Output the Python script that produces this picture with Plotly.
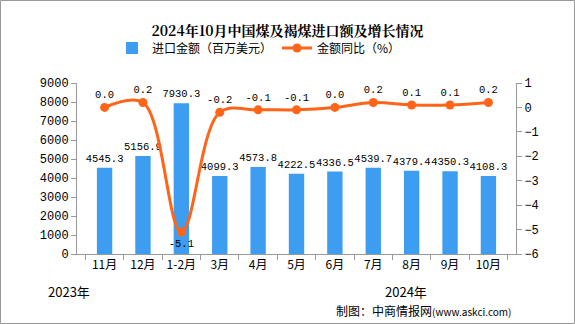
import plotly.graph_objects as go

categories = ["11月", "12月", "1-2月", "3月", "4月", "5月", "6月", "7月", "8月", "9月", "10月"]
import_value = [4545.3, 5156.9, 7930.3, 4099.3, 4573.8, 4222.5, 4336.5, 4539.7, 4379.4, 4350.3, 4108.3]
yoy_growth = [0.0, 0.2, -5.1, -0.2, -0.1, -0.1, 0.0, 0.2, 0.1, 0.1, 0.2]
left_ticks = [0, 1000, 2000, 3000, 4000, 5000, 6000, 7000, 8000, 9000]
right_ticks = [-6, -5, -4, -3, -2, -1, 0, 1]

W, H = 575, 324
ml, mr, mt, mb = 77, 59, 83, 70
pw, ph = W - ml - mr, H - mt - mb

def px(x):
    return (x - ml) / pw

def py(y):
    return (H - mb - y) / ph

NUM = "Liberation Mono, Noto Sans CJK SC, monospace"
CJK = "Noto Sans CJK SC, sans-serif"

fig = go.Figure()
fig.add_trace(go.Bar(
    x=categories, y=import_value, name="进口金额（百万美元）",
    marker=dict(color="#3d9df0", line=dict(width=0)),
    text=[f"{v:.1f}" for v in import_value], textposition="outside", textangle=0,
    constraintext="none",
    textfont=dict(family=NUM, size=10.5, color="#000"), cliponaxis=False,
))
pos = ["bottom center" if v < -1 else "top center" for v in yoy_growth]
fig.add_trace(go.Scatter(
    x=categories, y=yoy_growth, name="金额同比（%）", yaxis="y2",
    mode="lines+markers+text", line=dict(color="#ff6419", width=3, shape="spline", smoothing=1.0),
    marker=dict(color="#ff6419", size=9),
    text=[f"{v:.1f}" for v in yoy_growth], textposition=pos,
    textfont=dict(family=NUM, size=10.5, color="#000"), cliponaxis=False,
))

fig.update_layout(
    width=W, height=H, margin=dict(l=ml, r=mr, t=mt, b=mb, autoexpand=False),
    paper_bgcolor="white", plot_bgcolor="white",
    bargap=0.6, showlegend=True,
    title=dict(text="<b>2024年10月中国煤及褐煤进口额及增长情况</b>", x=0.5, xanchor="center",
               y=1 - 31 / H, yanchor="middle", font=dict(family="Noto Serif CJK SC, Noto Sans CJK SC", size=14, color="#000")),
    legend=dict(orientation="h", x=px(112), xanchor="left", y=py(48), yanchor="middle",
                font=dict(family=CJK, size=12, color="#000"), bgcolor="rgba(0,0,0,0)",
                tracegroupgap=0, itemwidth=30),
    xaxis=dict(showline=True, linecolor="#999", linewidth=1, ticks="outside", tickson="boundaries",
               ticklen=5, tickcolor="#999", tickangle=0, tickfont=dict(family=CJK, size=12, color="#000"),
               showgrid=False, automargin=False),
    yaxis=dict(range=[0, 9000], tickvals=left_ticks, showline=True, linecolor="#999", linewidth=1,
               ticks="outside", ticklen=5, tickcolor="#999", showgrid=False, zeroline=False, automargin=False,
               tickfont=dict(family=NUM, size=12, color="#000")),
    yaxis2=dict(range=[-6, 1], tickvals=right_ticks, overlaying="y", side="right", showline=True,
                linecolor="#999", linewidth=1, ticks="outside", ticklen=5, tickcolor="#999", automargin=False,
                showgrid=False, zeroline=False, tickfont=dict(family=NUM, size=12, color="#000")),
)

fig.add_annotation(text="2023年", xref="paper", yref="paper", x=px(69), y=py(291), showarrow=False,
                   xanchor="center", yanchor="middle", font=dict(family=CJK, size=13, color="#000"))
fig.add_annotation(text="2024年", xref="paper", yref="paper", x=px(406), y=py(291), showarrow=False,
                   xanchor="center", yanchor="middle", font=dict(family=CJK, size=13, color="#000"))
fig.add_annotation(text="制图：中商情报网<span style='font-size:10px'>(www.askci.com)</span>", xref="paper", yref="paper",
                   x=px(513), y=py(310), xanchor="right", yanchor="middle", showarrow=False,
                   font=dict(family=CJK, size=12, color="#000"))
fig.add_shape(type="rect", xref="paper", yref="paper", x0=px(0.5), x1=px(574.5), y0=py(0.5), y1=py(323.5),
              line=dict(color="#999", width=1), fillcolor="rgba(0,0,0,0)", layer="below")

fig.write_html("out.html")
